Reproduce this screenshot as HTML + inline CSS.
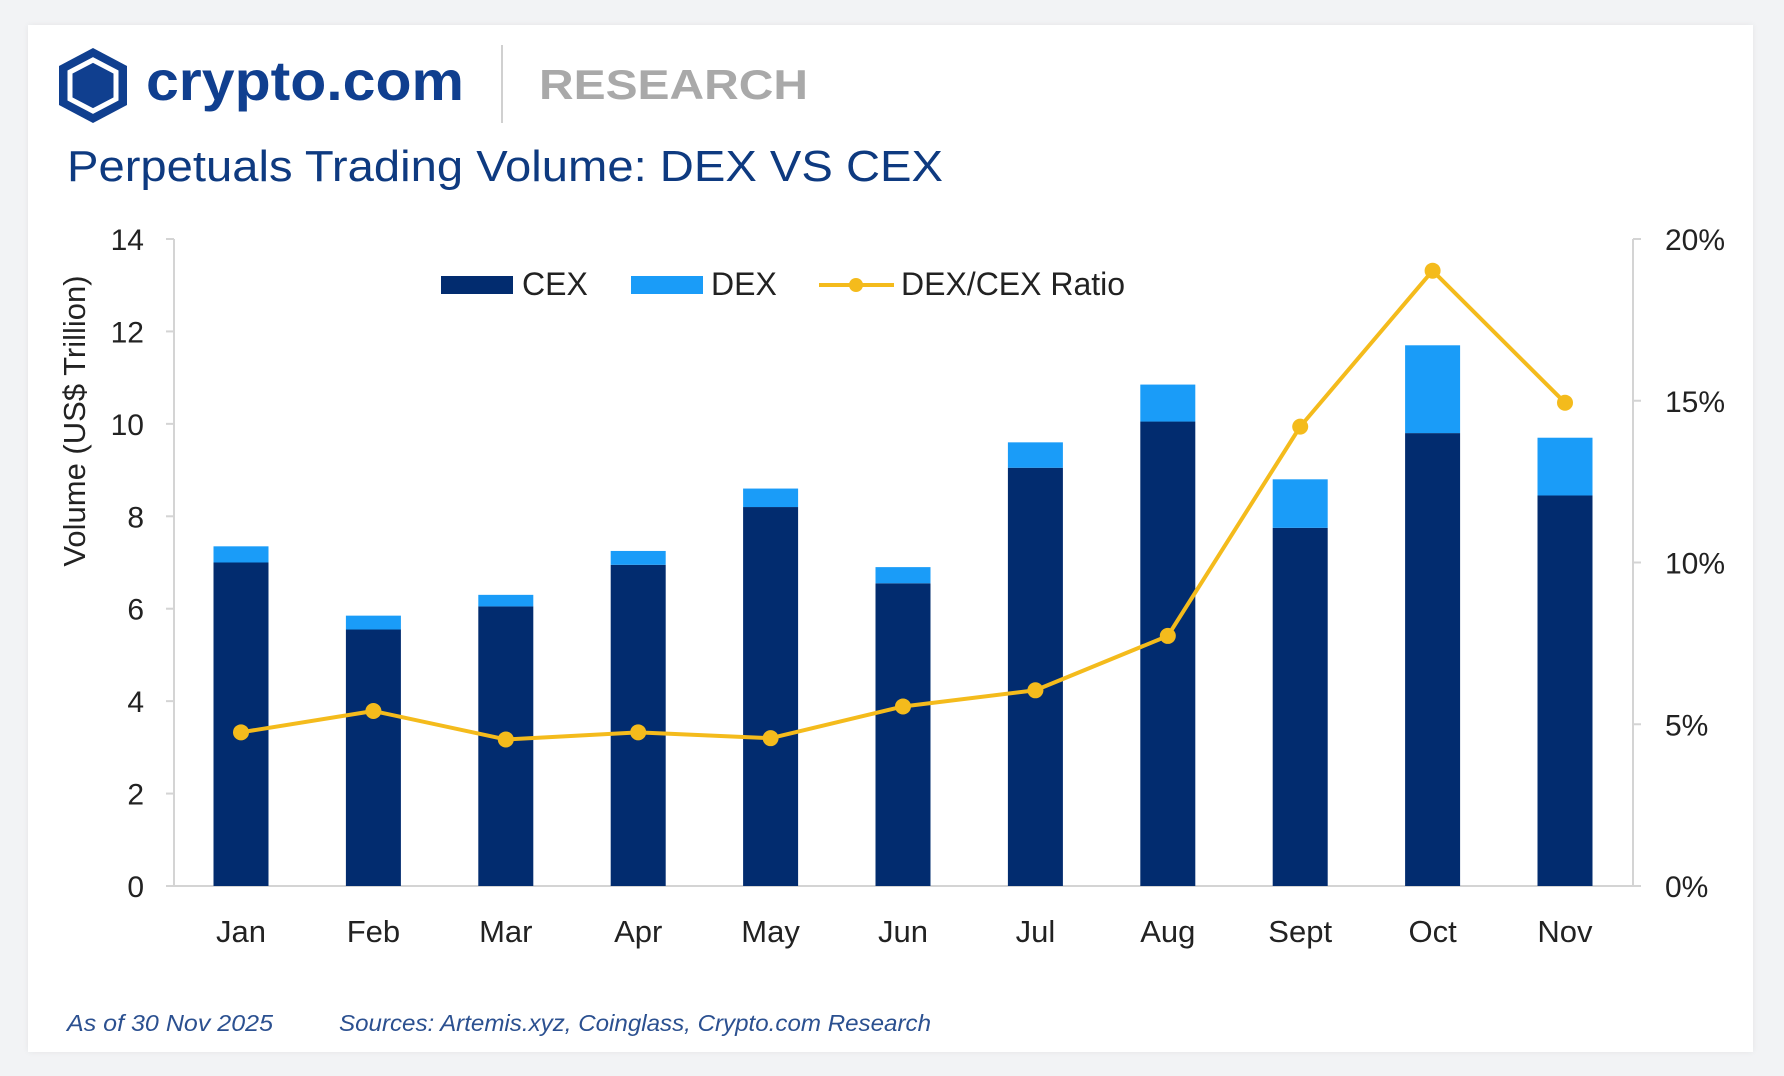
<!DOCTYPE html>
<html><head><meta charset="utf-8"><style>
html,body{margin:0;padding:0;background:#f2f3f5;}
body{width:1784px;height:1076px;position:relative;overflow:hidden;font-family:"Liberation Sans",sans-serif;}
#card{position:absolute;left:28px;top:25px;width:1725px;height:1027px;background:#fff;box-shadow:0 0 6px rgba(0,0,0,0.06);}
</style></head><body>
<div id="card"></div>
<svg id="chart" width="1784" height="1076" style="position:absolute;left:0;top:0">
<g>
<polygon points="93,48 127,66 127,105 93,123 59,105 59,66" fill="#103f8f"/>
<polygon points="93,60 116,72 116,99 93,111 70,99 70,72" fill="none" stroke="#fff" stroke-width="5"/>
<text x="146" y="100" font-size="56" font-weight="bold" fill="#103f8f" textLength="318" lengthAdjust="spacingAndGlyphs">crypto.com</text>
<line x1="502" y1="45" x2="502" y2="123" stroke="#d0d0d0" stroke-width="2"/>
<text x="539" y="99" font-size="42" font-weight="bold" fill="#a9a9a9" textLength="269" lengthAdjust="spacingAndGlyphs">RESEARCH</text>
</g>
<text x="67" y="181" font-size="44" fill="#0e3a80" textLength="876" lengthAdjust="spacingAndGlyphs">Perpetuals Trading Volume: DEX VS CEX</text>
<g id="axes"></g>
<g id="bars"></g>
<g id="line"></g>
<g>
<rect x="441" y="276" width="72" height="18" fill="#022c6f"/>
<text x="522" y="295" font-size="32" fill="#222">CEX</text>
<rect x="631" y="276" width="72" height="18" fill="#1a9cf8"/>
<text x="711" y="295" font-size="32" fill="#222">DEX</text>
<line x1="819" y1="285" x2="894" y2="285" stroke="#f4bb1c" stroke-width="4"/>
<circle cx="856" cy="285" r="7" fill="#f4bb1c"/>
<text x="901" y="295" font-size="32" fill="#222">DEX/CEX Ratio</text>
</g>
<text x="67" y="1031" font-size="23" font-style="italic" fill="#2b5090" textLength="206" lengthAdjust="spacingAndGlyphs">As of 30 Nov 2025</text>
<text x="339" y="1031" font-size="23" font-style="italic" fill="#2b5090" textLength="592" lengthAdjust="spacingAndGlyphs">Sources: Artemis.xyz, Coinglass, Crypto.com Research</text>
</svg>
<script>
const categories=["Jan","Feb","Mar","Apr","May","Jun","Jul","Aug","Sept","Oct","Nov"];
const cexValues=[7.0,5.55,6.05,6.95,8.2,6.55,9.05,10.05,7.75,9.8,8.45];
const dexValues=[0.35,0.3,0.25,0.3,0.4,0.35,0.55,0.8,1.05,1.9,1.25];
const ratioValues=[4.75,5.41,4.53,4.75,4.57,5.55,6.05,7.73,14.2,19.02,14.94];
const leftTicks=[0,2,4,6,8,10,12,14];
const rightTicks=[0,5,10,15,20];
const NS="http://www.w3.org/2000/svg";
const X0=174,X1=1633,YB=886,YT=239,FIRST=241,STEP=132.4,BW=55;
const x=i=>FIRST+i*STEP;
const yL=v=>YB-(v/14)*(YB-YT);
const yR=v=>YB-(v/20)*(YB-YT);
function mk(tag,attrs,parent,txt){const e=document.createElementNS(NS,tag);for(const k in attrs)e.setAttribute(k,attrs[k]);if(txt!==undefined)e.textContent=txt;parent.appendChild(e);return e;}
const axes=document.getElementById('axes'),bars=document.getElementById('bars'),line=document.getElementById('line');
let e;
e=mk('line',{x1:X0,y1:YT,x2:X0,y2:YB,stroke:'#d4d4d4','stroke-width':2},axes);


e=mk('line',{x1:X1,y1:YT,x2:X1,y2:YB,stroke:'#d4d4d4','stroke-width':2},axes);


e=mk('line',{x1:X0-8,y1:YB,x2:X1+8,y2:YB,stroke:'#d4d4d4','stroke-width':2},axes);


leftTicks.forEach(t=>{
  e=mk('line',{x1:X0-8,y1:yL(t),x2:X0,y2:yL(t),stroke:'#d4d4d4','stroke-width':2},axes);
  
  
  e=mk('text',{x:144,y:yL(t)+11,'font-size':30,fill:'#222','text-anchor':'end'},axes,String(t));
  
  
});
rightTicks.forEach(t=>{
  e=mk('line',{x1:X1,y1:yR(t),x2:X1+8,y2:yR(t),stroke:'#d4d4d4','stroke-width':2},axes);
  
  
  e=mk('text',{x:1665,y:yR(t)+11,'font-size':30,fill:'#222'},axes,t+'%');
  
  
});
e=mk('text',{x:0,y:0,'font-size':31,fill:'#222','text-anchor':'middle',transform:'translate(85,421) rotate(-90)'},axes,'Volume (US$ Trillion)');


categories.forEach((c,i)=>{
  const cx=x(i);
  e=mk('rect',{x:cx-BW/2,y:yL(cexValues[i]),width:BW,height:YB-yL(cexValues[i]),fill:'#022c6f'},bars);
  
  
  const tot=cexValues[i]+dexValues[i];
  e=mk('rect',{x:cx-BW/2,y:yL(tot),width:BW,height:yL(cexValues[i])-yL(tot),fill:'#1a9cf8'},bars);
  
  
  e=mk('text',{x:cx,y:942,'font-size':31,fill:'#222','text-anchor':'middle'},axes,c);
  
  
});
e=mk('polyline',{points:ratioValues.map((v,i)=>x(i)+','+yR(v)).join(' '),fill:'none',stroke:'#f4bb1c','stroke-width':4,'stroke-linejoin':'round'},line);


ratioValues.forEach((v,i)=>{
  e=mk('circle',{cx:x(i),cy:yR(v),r:8,fill:'#f4bb1c'},line);
  
  
});
</script>
</body></html>
